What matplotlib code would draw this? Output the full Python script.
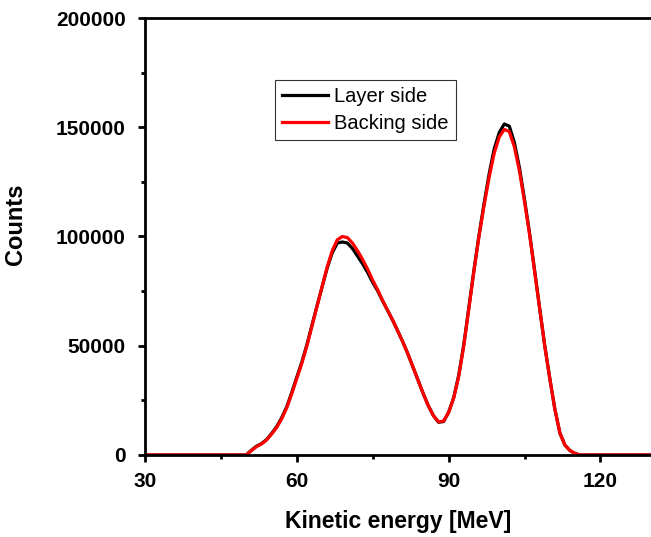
import numpy as np
import matplotlib.pyplot as plt
from matplotlib.ticker import MultipleLocator

plt.rcParams['font.family'] = ['Liberation Sans', 'DejaVu Sans']

# ------------------ spectra ------------------
energy = [30, 35, 40, 45, 48, 50, 51, 52, 53, 54, 55, 56, 57, 58, 59,
          60, 61, 62, 63, 64, 65, 66, 67, 68, 69, 70, 71, 72, 73, 74,
          75, 76, 77, 78, 79, 80, 81, 82, 83, 84, 85, 86, 87, 88, 89,
          90, 91, 92, 93, 94, 95, 96, 97, 98, 99, 100, 101, 102, 103, 104,
          105, 106, 107, 108, 109, 110, 111, 112, 113, 114, 115, 116, 120, 125, 130]

backing_side = [0, 0, 0, 0, 0, 0, 2000, 3800, 5000, 6800, 9500, 12500, 16500, 21500, 28000,
                35000, 42000, 50000, 59000, 68000, 77000, 86000, 93500, 98500, 100000, 99500, 97000, 93500, 89500, 85000,
                80000, 75500, 70500, 66000, 61500, 56500, 51500, 46000, 40000, 34000, 28000, 22500, 18000, 15200, 15500,
                19500, 26000, 36000, 50000, 67000, 84000, 100000, 114000, 127000, 138000, 145500, 149000, 148000, 141000, 130000,
                116000, 101000, 84000, 67000, 50000, 35000, 21000, 10000, 4500, 2000, 700, 0, 0, 0, 0]

layer_side = [0, 0, 0, 0, 0, 0, 2100, 4000, 5200, 7000, 9800, 12900, 17000, 22000, 28600,
              35600, 42600, 50500, 59500, 68300, 77000, 85500, 92500, 97000, 97500, 97000, 94500, 91000, 87500, 83500,
              79000, 75000, 70300, 65900, 61400, 56500, 51500, 46000, 40000, 34000, 28000, 22500, 18000, 15000, 15300,
              19500, 26200, 36500, 50500, 67500, 84500, 100500, 115000, 128500, 140000, 147500, 151500, 150500, 143000, 131500,
              117000, 101500, 84500, 67000, 50000, 35000, 21000, 10000, 4500, 2000, 700, 0, 0, 0, 0]

fig = plt.figure(figsize=(6.51, 5.37), dpi=100)
ax = fig.add_axes([145 / 651, 82 / 537, 506 / 651, 437 / 537])

ax.plot(energy, layer_side, color='black', lw=2.3, label='Layer side')
ax.plot(energy, backing_side, color='red', lw=2.3, label='Backing side')

ax.set_xlim(30, 130)
ax.set_ylim(0, 200000)
ax.xaxis.set_major_locator(MultipleLocator(30))
ax.xaxis.set_minor_locator(MultipleLocator(15))
ax.yaxis.set_major_locator(MultipleLocator(50000))
ax.yaxis.set_minor_locator(MultipleLocator(25000))

for side in ['left', 'bottom', 'top']:
    ax.spines[side].set_linewidth(2)
ax.spines['right'].set_visible(False)
ax.tick_params(which='major', direction='out', length=5, width=2, labelsize=15)
ax.tick_params(which='minor', direction='out', length=3, width=2)
ax.tick_params(axis='x', which='major', pad=7)
ax.tick_params(axis='y', which='major', pad=9)
for lbl in ax.get_xticklabels() + ax.get_yticklabels():
    lbl.set_fontweight('bold')

ax.set_xlabel('Kinetic energy [MeV]', fontsize=16.5, fontweight='bold', labelpad=14)
ax.set_ylabel('Counts', fontsize=17, fontweight='bold')
ax.yaxis.set_label_coords(-0.233, 0.529)

leg = ax.legend(loc='upper left', bbox_to_anchor=(0.257, 0.858), borderaxespad=0,
                fontsize=14.5, frameon=True, fancybox=False, handlelength=2.3,
                handletextpad=0.3, borderpad=0.35, labelspacing=0.4)
leg.get_frame().set_edgecolor('black')
leg.get_frame().set_linewidth(0.8)

plt.savefig('out.png', dpi=100)
